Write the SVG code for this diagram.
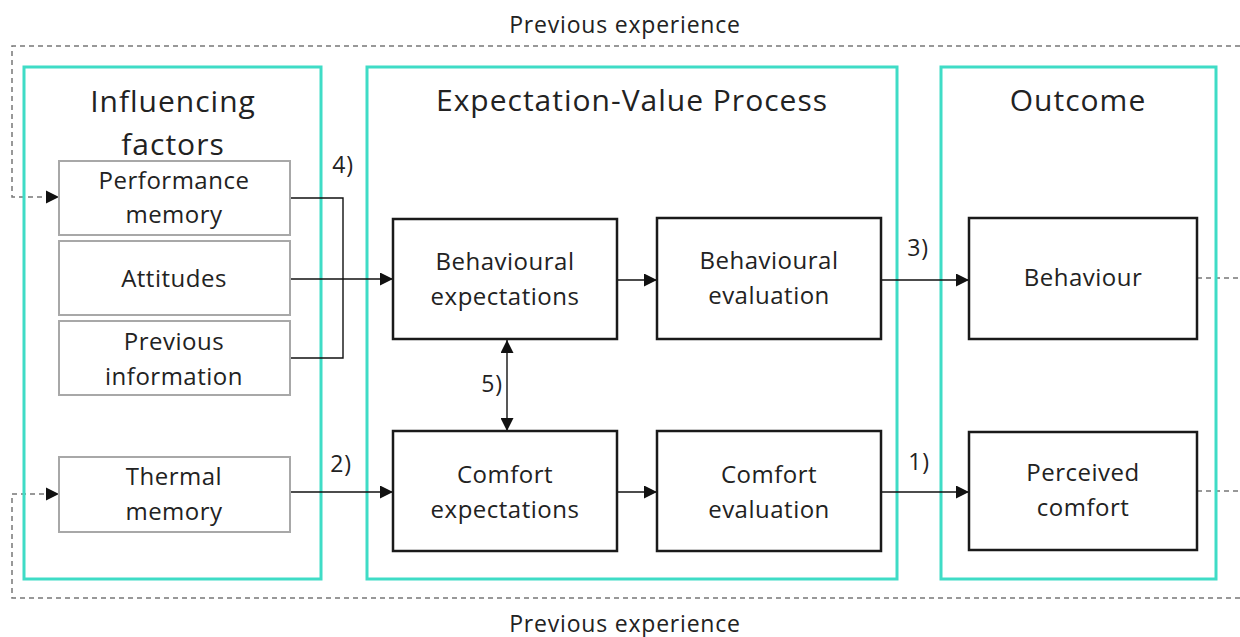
<svg xmlns="http://www.w3.org/2000/svg" width="1240" height="637" viewBox="0 0 1240 637">
<style>
text{font-family:"Open Sans","Noto Sans","Liberation Sans",sans-serif;fill:#222;text-anchor:middle}
.t{font-size:30px;letter-spacing:1px}
.n{font-size:24px;letter-spacing:0.5px}
.l{font-size:23px;letter-spacing:0.8px}
.grp{fill:none;stroke:#3fdcc6;stroke-width:3}
.g{fill:#fff;stroke:#a8a8a8;stroke-width:2}
.b{fill:#fff;stroke:#1a1a1a;stroke-width:2.5}
.c{fill:none;stroke:#111;stroke-width:1.4}
.d{fill:none;stroke:#777;stroke-width:1.5;stroke-dasharray:5,4}
</style>
<defs>
<marker id="a" viewBox="0 0 12 12" refX="12" refY="6" markerWidth="13" markerHeight="13" markerUnits="userSpaceOnUse" orient="auto"><path d="M0,0 L12,6 L0,12 z" fill="#111"/></marker>
<marker id="as" viewBox="0 0 12 12" refX="12" refY="6" markerWidth="13" markerHeight="13" markerUnits="userSpaceOnUse" orient="auto-start-reverse"><path d="M0,0 L12,6 L0,12 z" fill="#111"/></marker>
</defs>

<g id="feedback">
<path class="d" d="M1240,46 H12 V197 H46"/>
<path class="d" d="M1240,598 H12 V494 H46"/>
<path class="d" d="M1197,278 H1240"/>
<path class="d" d="M1197,491 H1240"/>
<path d="M46,190.5 L59,197 L46,203.5 z" fill="#111"/>
<path d="M46,487.5 L59,494 L46,500.5 z" fill="#111"/>
<text class="l" x="625" y="33">Previous experience</text>
<text class="l" x="625" y="632">Previous experience</text>
</g>

<g id="group-influencing">
<rect class="grp" x="24" y="67" width="297" height="512"/>
<text class="t" x="173" y="112">Influencing</text>
<text class="t" x="173" y="155">factors</text>
</g>
<g id="group-process">
<rect class="grp" x="367" y="67" width="530" height="512"/>
<text class="t" x="632" y="111">Expectation-Value Process</text>
</g>
<g id="group-outcome">
<rect class="grp" x="941" y="67" width="275" height="512"/>
<text class="t" x="1078" y="111">Outcome</text>
</g>

<g id="connectors">
<path class="c" d="M290,198 H343 V358 H290"/>
<path class="c" d="M290,279 H393" marker-end="url(#a)"/>
<path class="c" d="M290,492 H393" marker-end="url(#a)"/>
<path class="c" d="M617,280 H657" marker-end="url(#a)"/>
<path class="c" d="M617,492 H657" marker-end="url(#a)"/>
<path class="c" d="M881,280 H969" marker-end="url(#a)"/>
<path class="c" d="M881,492 H969" marker-end="url(#a)"/>
<path class="c" d="M507,340 V431" marker-start="url(#as)" marker-end="url(#as)"/>
<text class="l" x="343" y="173">4)</text>
<text class="l" x="341" y="472">2)</text>
<text class="l" x="918" y="256">3)</text>
<text class="l" x="919" y="470">1)</text>
<text class="l" x="492" y="392">5)</text>
</g>

<g id="performance-memory">
<rect class="g" x="59" y="161" width="231" height="74"/>
<text class="n" x="174" y="189">Performance</text>
<text class="n" x="174" y="223">memory</text>
</g>
<g id="attitudes">
<rect class="g" x="59" y="241" width="231" height="74"/>
<text class="n" x="174" y="287">Attitudes</text>
</g>
<g id="previous-information">
<rect class="g" x="59" y="321" width="231" height="74"/>
<text class="n" x="174" y="350">Previous</text>
<text class="n" x="174" y="385">information</text>
</g>
<g id="thermal-memory">
<rect class="g" x="59" y="457" width="231" height="75"/>
<text class="n" x="174" y="485">Thermal</text>
<text class="n" x="174" y="520">memory</text>
</g>

<g id="behavioural-expectations">
<rect class="b" x="393" y="219" width="224" height="120"/>
<text class="n" x="505" y="270">Behavioural</text>
<text class="n" x="505" y="305">expectations</text>
</g>
<g id="behavioural-evaluation">
<rect class="b" x="657" y="218" width="224" height="121"/>
<text class="n" x="769" y="269">Behavioural</text>
<text class="n" x="769" y="304">evaluation</text>
</g>
<g id="comfort-expectations">
<rect class="b" x="393" y="431" width="224" height="120"/>
<text class="n" x="505" y="483">Comfort</text>
<text class="n" x="505" y="518">expectations</text>
</g>
<g id="comfort-evaluation">
<rect class="b" x="657" y="431" width="224" height="120"/>
<text class="n" x="769" y="483">Comfort</text>
<text class="n" x="769" y="518">evaluation</text>
</g>
<g id="behaviour">
<rect class="b" x="969" y="218" width="228" height="121"/>
<text class="n" x="1083" y="286">Behaviour</text>
</g>
<g id="perceived-comfort">
<rect class="b" x="969" y="432" width="228" height="118"/>
<text class="n" x="1083" y="481">Perceived</text>
<text class="n" x="1083" y="516">comfort</text>
</g>
</svg>
